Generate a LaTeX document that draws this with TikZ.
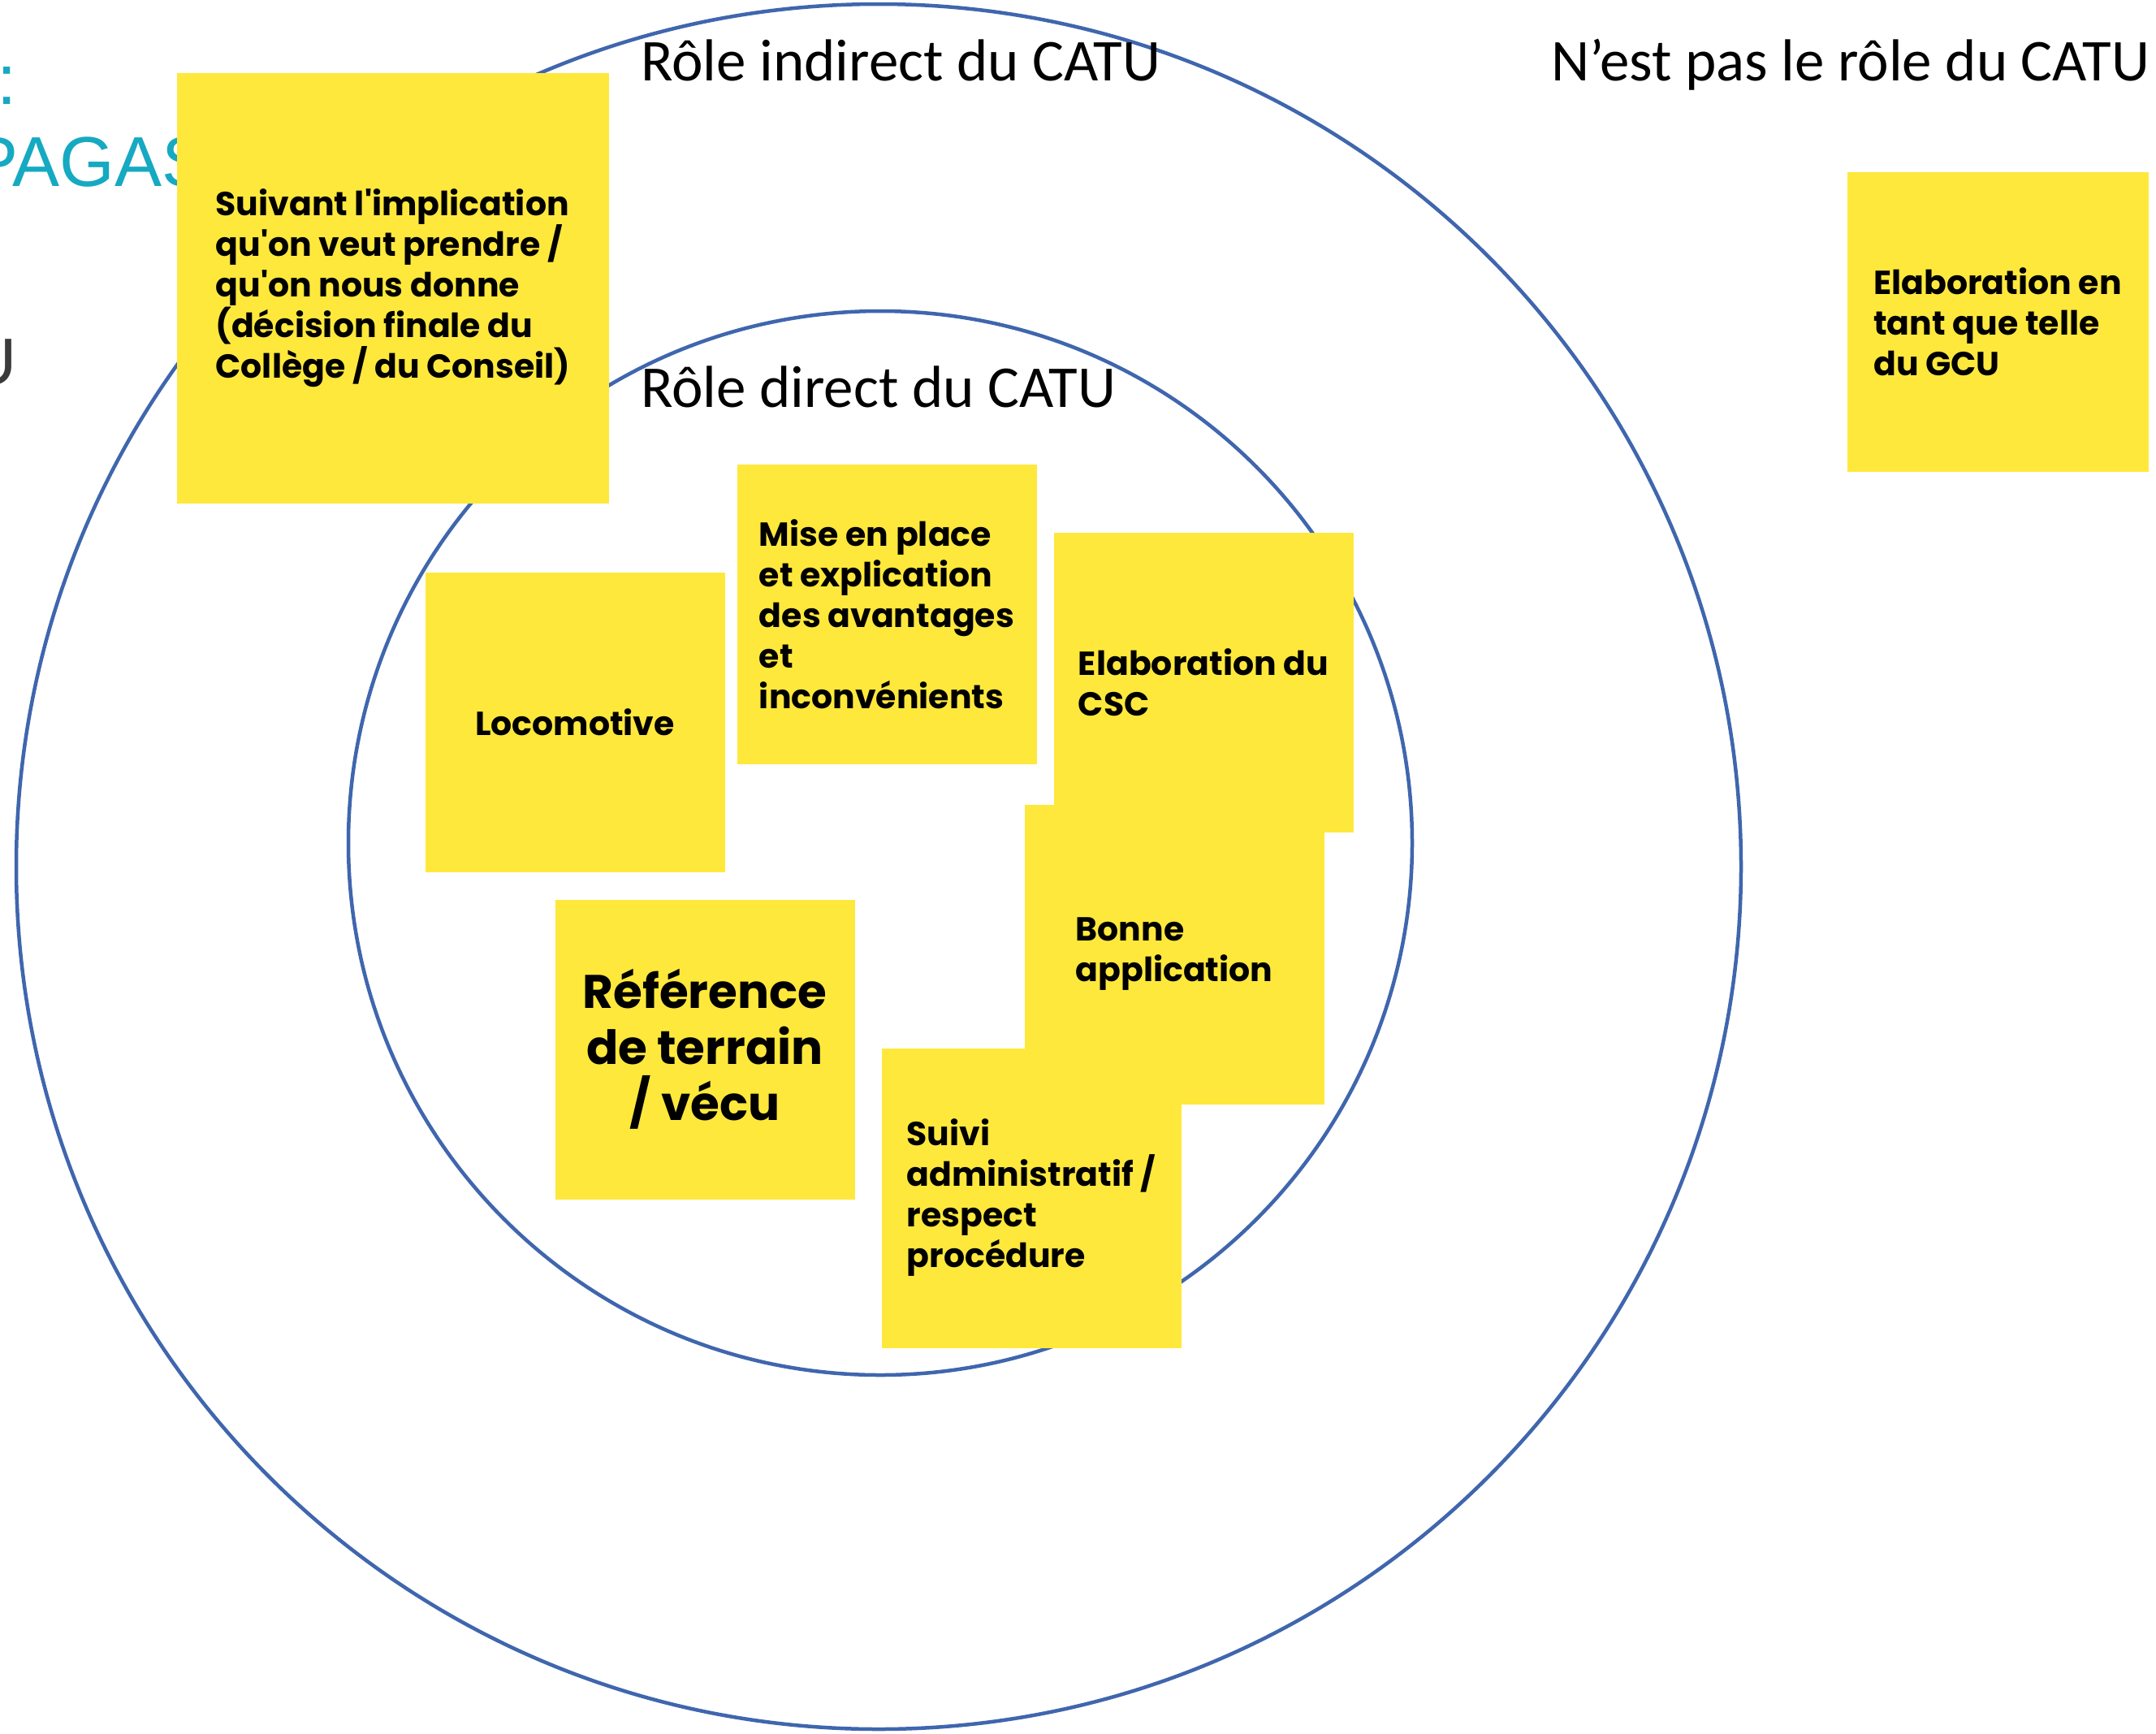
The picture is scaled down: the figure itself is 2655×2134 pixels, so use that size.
\documentclass[tikz,border=0pt]{standalone}
\usepackage{fontspec}
\setmainfont{Carlito}
\newfontfamily\notefont{Poppins}[Ligatures=TeXOff]
\newfontfamily\titlefont{Carlito}
\newfontfamily\leftfont{Liberation Sans}
\definecolor{noteyellow}{HTML}{FFE83C}
\definecolor{ringblue}{HTML}{3F66AE}
\definecolor{cyantext}{HTML}{16A9C2}
\definecolor{graytext}{HTML}{3B3B3B}
\begin{document}
\begin{tikzpicture}[x=1pt,y=-1pt,
  ring/.style={draw=ringblue, line width=4.5pt, circle, inner sep=0pt},
  note/.style={fill=noteyellow, inner sep=0pt, minimum width=369pt, minimum height=369pt,
    align=left, font=\notefont\bfseries\fontsize{41}{50}\selectfont},
  bignote/.style={note, align=center, font=\notefont\bfseries\fontsize{58}{69}\selectfont},
  title/.style={anchor=base west, inner sep=0pt, font=\titlefont\fontsize{73}{87}\selectfont, text=black},
  lefttext/.style={anchor=base west, inner sep=0pt}
]
\useasboundingbox (0,0) rectangle (2655,2134);
\fill[white] (0,0) rectangle (2655,2134);

% rings
\node[ring, minimum size=2124pt] (outer) at (1082,1067) {};
\node[ring, minimum size=1310pt] (inner) at (1084,1038) {};

% partial texts at the left edge
\node[lefttext, text=cyantext, font=\leftfont\fontsize{87}{100}\selectfont] (colon) at (-4,128) {:};
\node[lefttext, text=cyantext, font=\leftfont\fontsize{87}{100}\selectfont] (pagas) at (-36,229) {PAGAS};
\node[lefttext, text=graytext, font=\titlefont\fontsize{87}{100}\selectfont] (uleft) at (-36,473) {U};

% titles
\node[title] (tindirect) at (789,99) {Rôle indirect du CATU};
\node[title] (tnot) at (1910,99) {N’est pas le rôle du CATU};
\node[title] (tdirect) at (789,501) {Rôle direct du CATU};

% sticky notes
\node[note, minimum width=532pt, minimum height=530pt] (suivant) at (484,355)
  {Suivant l'implication\\qu'on veut prendre /\\qu'on nous donne\\(décision finale du\\Collège / du Conseil)};
\node[note, minimum width=371pt] (gcu) at (2460,396) {Elaboration en\\tant que telle\\du GCU};
\node[note] (loco) at (708,889) {Locomotive};
\node[note] (mise) at (1092,756) {Mise en place\\et explication\\des avantages\\et\\inconvénients};
\node[note] (bonne) at (1446,1175) {Bonne\\application};
\node[note] (csc) at (1482,840) {Elaboration du\\CSC};
\node[note] (suivi) at (1270,1475) {Suivi\\administratif /\\respect\\procédure};
\node[bignote] (ref) at (868,1292) {Référence\\de terrain\\/ vécu};
\end{tikzpicture}
\end{document}
